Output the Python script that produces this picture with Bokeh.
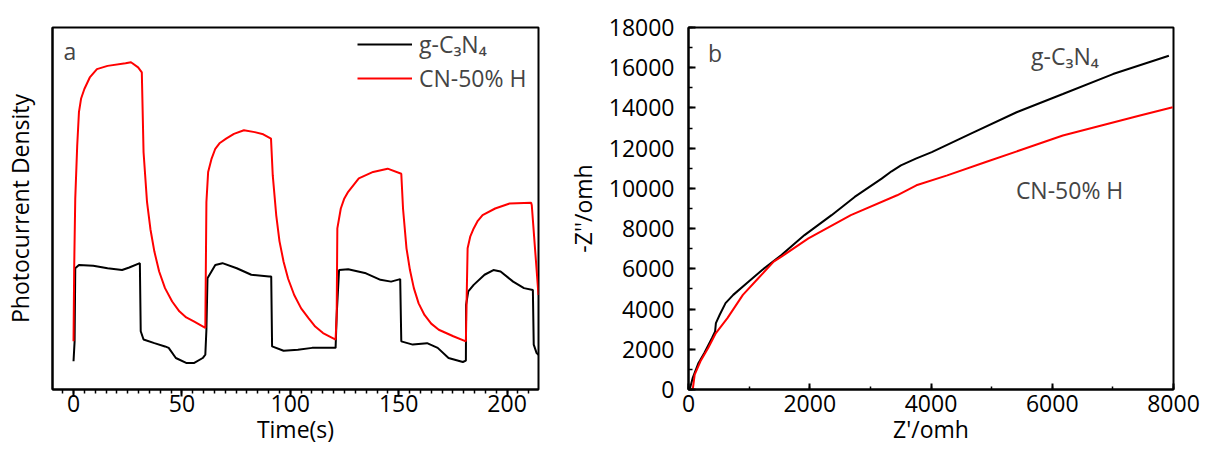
from bokeh.plotting import figure
from bokeh.layouts import row
from bokeh.models import Range1d, SingleIntervalTicker, FixedTicker, Legend, LegendItem, Label
from bokeh.embed import file_html
from bokeh.resources import INLINE

# ---------------- Panel a: transient photocurrent (arbitrary units) ----------------
time_gcn = [0, 0.5, 0.8, 2.5, 9.1, 15.7, 22.4, 25.7, 30.6, 31.0, 32.3, 37.3, 42.2, 43.9, 47.2,
            52.2, 55.5, 59.6, 60.8, 61.3, 61.8, 65.4, 68.7, 75.3, 82.0, 90.2, 91.2, 91.6, 96.9,
            103.5, 110.1, 120.9, 121.4, 122.5, 126.7, 134.9, 141.6, 146.5, 150.7, 151.2, 156.5,
            163.1, 168.0, 173.0, 179.6, 181.0, 181.1, 182.1, 184.6, 189.6, 193.7, 197.0, 202.8,
            207.8, 211.9, 212.3, 213.6, 214.5]
curr_gcn = [7.8, 13.3, 33.5, 34.4, 34.2, 33.5, 33.0, 33.7, 34.9, 16.1, 13.8, 12.8, 11.9, 11.5, 8.7,
            7.3, 7.3, 8.7, 9.6, 16.5, 30.7, 34.4, 34.9, 33.5, 31.7, 31.2, 31.2, 11.9, 10.7,
            11.0, 11.5, 11.5, 20.6, 33.0, 33.2, 32.1, 30.3, 29.8, 30.5, 13.3, 12.4,
            12.8, 11.5, 8.7, 7.6, 8.0, 23.4, 27.1, 28.9, 31.7, 33.0, 32.6, 29.8,
            28.0, 27.5, 12.4, 10.1, 9.6]

time_cn50 = [0, 0.3, 0.8, 1.7, 2.5, 3.5, 5.0, 7.5, 10.8, 15.7, 24.0, 26.5, 29.8, 31.5, 32.3, 33.9,
             35.5, 37.3, 39.5, 42.2, 45.5, 48.8, 52.0, 55.5, 60.8,
             61.3, 62.1, 63.7, 65.4, 67.5, 70.4, 74.0, 78.6, 83.6, 87.5, 91.1, 91.9,
             93.5, 95.0, 96.9, 99.0, 101.8, 105.0, 108.4, 111.5, 115.1, 120.9,
             121.4, 121.7, 123.3, 124.8, 126.7, 131.6, 138.2,
             144.9, 151.2, 152.0, 153.6, 155.2, 157.0, 159.2, 161.9, 165.0, 168.5, 175.2, 181.0,
             181.3, 181.8, 183.0, 184.6, 186.5, 188.7, 194.5, 201.2, 211.1, 211.4, 214.5]
curr_cn50 = [13.3, 33.5, 52.8, 67.4, 76.6, 80.4, 83.0, 86.2, 88.5, 89.4, 90.1, 90.4, 89.0, 87.6, 65.6, 51.8,
             44.2, 38.1, 32.6, 28.0, 24.3, 21.6, 19.9, 18.8, 17.0,
             51.8, 60.1, 63.8, 66.5, 68.1, 69.3, 70.6, 71.6, 71.1, 70.5, 69.3, 59.2,
             48.2, 41.0, 35.3, 30.6, 26.1, 22.4, 19.7, 17.4, 15.6, 13.8,
             20.6, 44.5, 50.0, 52.6, 54.6, 58.3, 60.1,
             61.0, 59.6, 50.0, 39.0, 33.0, 28.0, 23.8, 20.6, 18.2, 16.5, 14.7, 13.3,
             23.4, 39.0, 42.2, 44.5, 46.6, 48.2, 50.0, 51.4, 51.6, 50.9, 26.1]

# ---------------- Panel b: Nyquist plot ----------------
zre_gcn = [0, 19, 70, 165, 261, 388, 439, 452, 515, 611, 738, 960, 1215, 1533, 1914, 2360, 2741,
           3186, 3350, 3504, 3750, 4013, 4649, 5412, 6175, 7002, 7924]
zim_gcn = [0, 0, 578, 1321, 1816, 2559, 2889, 3302, 3715, 4293, 4705, 5283, 5944, 6687, 7677, 8668,
           9576, 10484, 10850, 11144, 11480, 11805, 12713, 13786, 14694, 15685, 16593]

zre_cn50 = [0, 70, 102, 197, 324, 452, 642, 897, 1151, 1405, 1533, 1978, 2678, 3441, 3759, 4268,
            4904, 5540, 6175, 6811, 7447, 7987]
zim_cn50 = [0, 0, 743, 1403, 2064, 2807, 3550, 4705, 5531, 6356, 6604, 7512, 8668, 9658, 10154,
            10649, 11309, 11970, 12630, 13126, 13621, 14034]

series_names = ["g-C\u2083N\u2084", "CN-50% H"]

FONT = "Open Sans"
TICK_FS = "23px"
LAB_FS = "23px"
RED = "#ff0000"


def style_common(p):
    p.xgrid.grid_line_color = None
    p.ygrid.grid_line_color = None
    p.outline_line_color = "black"
    p.outline_line_width = 2
    p.outline_line_alpha = 1
    p.background_fill_color = "white"
    p.border_fill_color = "white"
    for ax in (p.xaxis, p.yaxis):
        ax.axis_line_color = "black"
        ax.axis_line_width = 2
        ax.major_tick_line_color = "black"
        ax.major_tick_line_width = 2
        ax.minor_tick_line_color = "black"
        ax.minor_tick_line_width = 1.5
        ax.major_label_text_font = FONT
        ax.major_label_text_font_size = TICK_FS
        ax.major_label_text_color = "black"
        ax.axis_label_text_font = FONT
        ax.axis_label_text_font_size = LAB_FS
        ax.axis_label_text_font_style = "normal"
        ax.axis_label_text_color = "black"


# ---- Figure a ----
p1 = figure(width=562, height=454, x_range=Range1d(-9.7, 214.5), y_range=Range1d(0, 100),
            output_backend="svg", toolbar_location=None,
            min_border_left=52, min_border_right=24, min_border_top=27, min_border_bottom=65)
style_common(p1)
r1 = p1.line(time_gcn, curr_gcn, line_color="black", line_width=2)
r2 = p1.line(time_cn50, curr_cn50, line_color=RED, line_width=2)

p1.xaxis.ticker = SingleIntervalTicker(interval=50, num_minor_ticks=10)
p1.xaxis.major_tick_out = 7
p1.xaxis.major_tick_in = 0
p1.xaxis.minor_tick_out = 4
p1.xaxis.minor_tick_in = 0
p1.xaxis.major_label_standoff = -2
p1.xaxis.axis_label = "Time(s)"
p1.xaxis.axis_label_standoff = -2

p1.yaxis.ticker = FixedTicker(ticks=[])
p1.yaxis.major_tick_out = 0
p1.yaxis.major_tick_in = 0
p1.yaxis.minor_tick_out = 0
p1.yaxis.minor_tick_in = 0
p1.yaxis.major_label_standoff = 0
p1.yaxis.axis_label = "Photocurrent Density"
p1.yaxis.axis_label_standoff = 17

legend = Legend(items=[LegendItem(label=series_names[0], renderers=[r1]),
                       LegendItem(label=series_names[1], renderers=[r2])],
                location=(305, 295), border_line_color=None, background_fill_alpha=0,
                label_text_font=FONT, label_text_font_size=LAB_FS, glyph_width=55,
                label_standoff=7, spacing=2, padding=0, margin=0)
p1.add_layout(legend)
p1.add_layout(Label(x=-4.6, y=93.4, text="a", text_font=FONT, text_font_size=LAB_FS,
                    text_baseline="middle", text_align="left"))

# ---- Figure b ----
p2 = figure(width=638, height=454, x_range=Range1d(0, 8000), y_range=Range1d(0, 18000),
            output_backend="svg", toolbar_location=None,
            min_border_left=126, min_border_right=27, min_border_top=27, min_border_bottom=65)
style_common(p2)
p2.line(zre_gcn, zim_gcn, line_color="black", line_width=2)
p2.line(zre_cn50, zim_cn50, line_color=RED, line_width=2)

p2.xaxis.ticker = SingleIntervalTicker(interval=2000, num_minor_ticks=2)
p2.xaxis.major_tick_in = 6
p2.xaxis.major_tick_out = 0
p2.xaxis.minor_tick_in = 3
p2.xaxis.minor_tick_out = 0
p2.xaxis.major_label_standoff = 5
p2.xaxis.axis_label = "Z'/omh"
p2.xaxis.axis_label_standoff = -2

p2.yaxis.ticker = SingleIntervalTicker(interval=2000, num_minor_ticks=2)
p2.yaxis.major_tick_in = 7
p2.yaxis.major_tick_out = 0
p2.yaxis.minor_tick_in = 4
p2.yaxis.minor_tick_out = 0
p2.yaxis.major_label_standoff = 14
p2.yaxis.axis_label = "-Z''/omh"
p2.yaxis.axis_label_standoff = 7

p2.add_layout(Label(x=320, y=16725, text="b", text_font=FONT, text_font_size=LAB_FS,
                    text_baseline="middle", text_align="left"))
p2.add_layout(Label(x=5650, y=16600, text=series_names[0], text_font=FONT, text_font_size=LAB_FS,
                    text_baseline="middle", text_align="left"))
p2.add_layout(Label(x=5400, y=9900, text=series_names[1], text_font=FONT, text_font_size=LAB_FS,
                    text_baseline="middle", text_align="left"))

layout = row(p1, p2)
open("out.html", "w").write(file_html(layout, INLINE))
